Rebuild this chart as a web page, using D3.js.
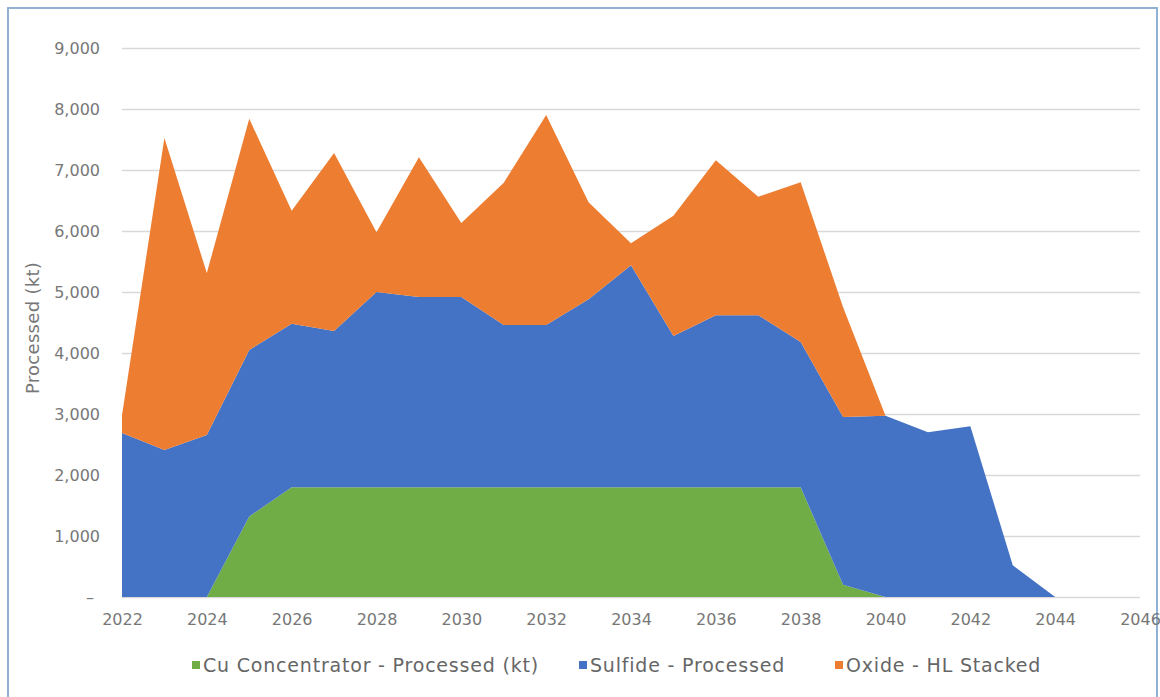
<!DOCTYPE html>
<html>
<head>
<meta charset="utf-8">
<script src="https://cdn.jsdelivr.net/npm/d3@7"></script>
<style>
  body { margin: 0; background: #fff; }
  svg { display: block; }
  text { font-family: "DejaVu Sans", sans-serif; }
</style>
</head>
<body>
<div id="chart"></div>
<script>
// values (kt)
var years = [2022, 2023, 2024, 2025, 2026, 2027, 2028, 2029, 2030, 2031, 2032, 2033,
             2034, 2035, 2036, 2037, 2038, 2039, 2040, 2041, 2042, 2043, 2044];
var cuConcentrator = [0, 0, 0, 1320, 1800, 1800, 1800, 1800, 1800, 1800, 1800, 1800,
                      1800, 1800, 1800, 1800, 1800, 200, 0, 0, 0, 0, 0];
var sulfide = [2690, 2410, 2655, 2730, 2680, 2560, 3200, 3120, 3120, 2660, 2660, 3080,
               3640, 2480, 2820, 2820, 2380, 2750, 2970, 2700, 2800, 520, 0];
var oxide = [290, 5115, 2655, 3790, 1850, 2920, 980, 2290, 1210, 2330, 3440, 1590,
             360, 1970, 2540, 1940, 2620, 1800, 0, 0, 0, 0, 0];

var seriesKeys = ["cu", "sulfide", "oxide"];
var seriesNames = ["Cu Concentrator - Processed (kt)", "Sulfide - Processed", "Oxide - HL Stacked"];
var seriesColors = ["#70ad47", "#4472c4", "#ed7d31"];

var yTicks = [0, 1000, 2000, 3000, 4000, 5000, 6000, 7000, 8000, 9000];
var xTicks = [2022, 2024, 2026, 2028, 2030, 2032, 2034, 2036, 2038, 2040, 2042, 2044, 2046];

var fullWidth = 1160, fullHeight = 697;
var plotLeft = 122, plotRight = 1140, plotTop = 48, plotBottom = 597;

var svg = d3.select("#chart").append("svg")
    .attr("width", fullWidth)
    .attr("height", fullHeight);

// outer frame
svg.append("rect")
    .attr("x", 8).attr("y", 8)
    .attr("width", 1149).attr("height", 720)
    .attr("fill", "none")
    .attr("stroke", "#8fb2d4")
    .attr("stroke-width", 2);

var xScale = d3.scaleLinear().domain([2022, 2046]).range([plotLeft, plotRight]);
var yScale = d3.scaleLinear().domain([0, 9000]).range([plotBottom, plotTop]);

// gridlines
var grid = svg.append("g")
    .attr("transform", "translate(" + plotLeft + ",0)")
    .call(d3.axisLeft(yScale).tickValues(yTicks).tickSize(-(plotRight - plotLeft)).tickFormat(""));
grid.select(".domain").remove();
grid.selectAll("line").attr("stroke", "#d9d9d9").attr("stroke-width", 1.3);

// build rows for the stack
var rows = years.map(function(y, i) {
  return { year: y, cu: cuConcentrator[i], sulfide: sulfide[i], oxide: oxide[i] };
});
var stacked = d3.stack().keys(seriesKeys)(rows);

var area = d3.area()
    .x(function(d) { return xScale(d.data.year); })
    .y0(function(d) { return yScale(d[0]); })
    .y1(function(d) { return yScale(d[1]); });

svg.append("g").selectAll("path")
    .data(stacked)
    .enter().append("path")
    .attr("fill", function(d, i) { return seriesColors[i]; })
    .attr("d", area);

// y axis labels
var yAxis = svg.append("g")
    .attr("transform", "translate(100,0)")
    .call(d3.axisLeft(yScale).tickValues(yTicks).tickSize(0).tickPadding(0)
      .tickFormat(function(d) { return d === 0 ? "\u2013" : d3.format(",")(d); }));
yAxis.select(".domain").remove();
yAxis.selectAll("text")
    .attr("fill", "#777")
    .style("font-size", "16px")
    .attr("x", function(d) { return d === 0 ? -6 : 0; });

// x axis labels
var xAxis = svg.append("g")
    .attr("transform", "translate(0," + plotBottom + ")")
    .call(d3.axisBottom(xScale).tickValues(xTicks).tickSize(0).tickPadding(17)
      .tickFormat(d3.format("d")));
xAxis.select(".domain").remove();
xAxis.selectAll("text")
    .attr("fill", "#777")
    .style("font-size", "16px");

// y axis title
svg.append("text")
    .attr("transform", "translate(39,328) rotate(-90)")
    .attr("text-anchor", "middle")
    .attr("fill", "#777")
    .style("font-size", "18px")
    .style("letter-spacing", "0.3px")
    .text("Processed (kt)");

// legend
var legendX = [192, 579, 835];
var legend = svg.append("g").selectAll("g")
    .data(seriesNames)
    .enter().append("g")
    .attr("transform", function(d, i) { return "translate(" + legendX[i] + ",666)"; });
legend.append("rect")
    .attr("x", 0).attr("y", -5)
    .attr("width", 8).attr("height", 8)
    .attr("fill", function(d, i) { return seriesColors[i]; });
legend.append("text")
    .attr("x", 11).attr("y", 6)
    .attr("fill", "#666")
    .style("font-size", "19px")
    .style("letter-spacing", "0.8px")
    .text(function(d) { return d; });
</script>
</body>
</html>
